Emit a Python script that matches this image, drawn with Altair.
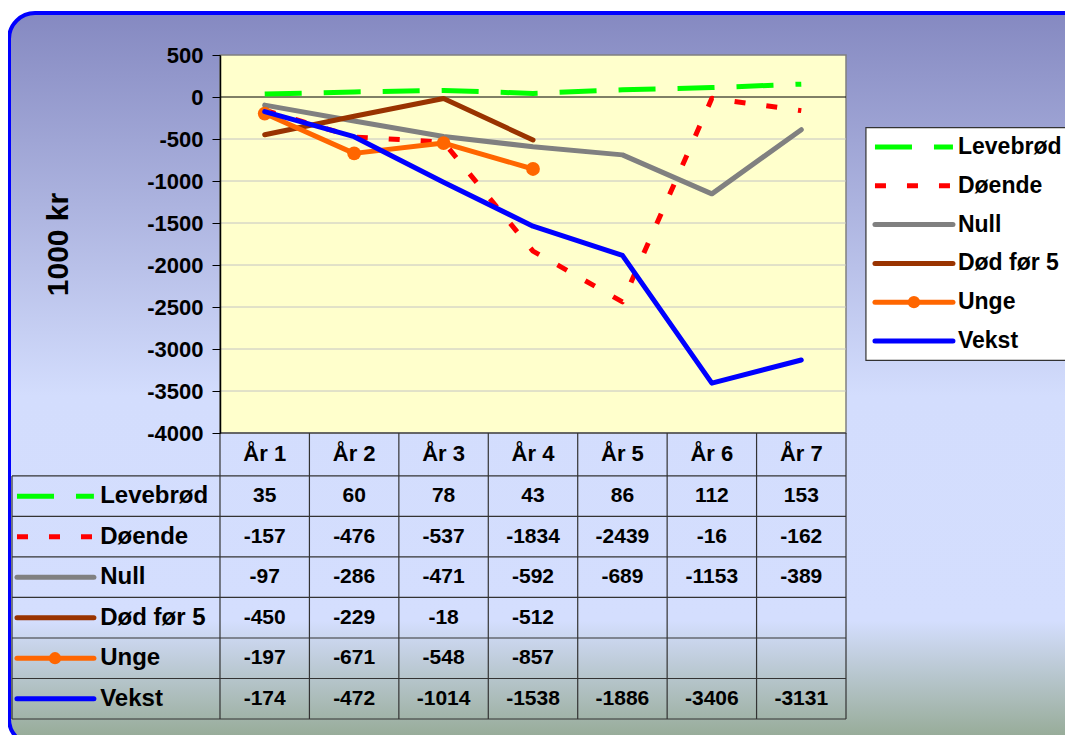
import altair as alt
import pandas as pd

# ---------------- data ----------------
years = ["År 1", "År 2", "År 3", "År 4", "År 5", "År 6", "År 7"]
series_names = ["Levebrød", "Døende", "Null", "Død før 5", "Unge", "Vekst"]
levebrod = [35, 60, 78, 43, 86, 112, 153]
doende = [-157, -476, -537, -1834, -2439, -16, -162]
null_series = [-97, -286, -471, -592, -689, -1153, -389]
dod_for_5 = [-450, -229, -18, -512, None, None, None]
unge = [-197, -671, -548, -857, None, None, None]
vekst = [-174, -472, -1014, -1538, -1886, -3406, -3131]
y_ticks = [500, 0, -500, -1000, -1500, -2000, -2500, -3000, -3500, -4000]
y_title = "1000 kr"

series_values = [levebrod, doende, null_series, dod_for_5, unge, vekst]

# ---------------- styles ----------------
series_colors = ["#00ff00", "#ff0000", "#808080", "#993300", "#ff6600", "#0000ff"]
series_dash = [[37, 22], [11, 21], None, None, None, None]
series_marker = [False, False, False, False, True, False]
FONT = "Liberation Sans"
LINE_W = 5
TABLE_LINE = "#333333"
GRID = "#c4c4c4"
PLOT_FILL = "#ffffcc"

# ---------------- layout ----------------
W, H = 834, 664          # table + plot block
PLOT_H = 378             # height of the plot area
COL_PX = 89.43           # width of one year column
LABEL_COLS = 208 / COL_PX  # label column width in column units
HEADER_ROWS = 1.06       # header row height in row units
ROW_SYM_X0, ROW_SYM_X1, ROW_SYM_DOT = -2.27, -1.41, -1.845
ROW_TEXT_X = -1.34
LEG_BOX_X0, LEG_BOX_X1 = 7.223, 10.5
LEG_SYM_X0, LEG_SYM_X1, LEG_SYM_DOT = 7.324, 8.196, 7.76
LEG_TEXT_X = 8.252
LEG_RANGE = [72.6, 305.4]

n_years = len(years)
n_series = len(series_names)

# ---------------- tables ----------------
rows = []
for r, (name, vals) in enumerate(zip(series_names, series_values)):
    for c, v in enumerate(vals):
        if v is None:
            continue
        rows.append(dict(series=name, row=r, ry=r + 0.5, year=years[c],
                         cx=c + 0.5, value=v, label=str(v)))
long_df = pd.DataFrame(rows)

XS = alt.Scale(domain=[-LABEL_COLS, n_years], nice=False, zero=False)
YV = alt.Scale(domain=[min(y_ticks), max(y_ticks)], range=[PLOT_H, 0], nice=False, zero=False)
YR = alt.Scale(domain=[-HEADER_ROWS, n_series], range=[PLOT_H, H], nice=False, zero=False)
YL = alt.Scale(domain=[-0.5, n_series - 0.5], range=LEG_RANGE, nice=False, zero=False)

layers = []

# background panel with rounded blue frame
bg_grad = alt.Gradient(
    gradient="linear", x1=0, x2=0, y1=0, y2=1,
    stops=[
        alt.GradientStop(offset=0.0, color="#8589c1"),
        alt.GradientStop(offset=0.523, color="#d3ddfd"),
        alt.GradientStop(offset=0.83, color="#d4defe"),
        alt.GradientStop(offset=1.0, color="#93a891"),
    ],
)
layers.append(
    alt.Chart(pd.DataFrame({"k": [0]})).mark_rect(
        fill=bg_grad, stroke="#0000ff", strokeWidth=4, cornerRadius=26
    ).encode(x=alt.value(-3), x2=alt.value(1100), y=alt.value(-42), y2=alt.value(690))
)

# plot area with y axis
plot_df = pd.DataFrame({"x0": [0], "x1": [n_years], "y0": [max(y_ticks)], "y1": [min(y_ticks)]})
layers.append(
    alt.Chart(plot_df).mark_rect(fill=PLOT_FILL, stroke="#808080", strokeWidth=1.5).encode(
        x=alt.X("x0:Q", scale=XS, axis=None),
        x2="x1:Q",
        y=alt.Y("y0:Q", scale=YV, axis=alt.Axis(
            values=y_ticks, grid=False, offset=-LABEL_COLS * COL_PX,
            tickSize=8, tickColor="black", tickWidth=1,
            domainColor="black", domainWidth=1.5,
            labelExpr="datum.value + ''",
            labelFont=FONT, labelFontSize=22, labelFontWeight="bold", labelColor="black",
            labelPadding=9,
            title=y_title, titleFont=FONT, titleFontSize=30, titleFontWeight="bold",
            titleColor="black", titlePadding=73, zindex=1,
        )),
        y2="y1:Q",
    )
)

# gridlines
grid_df = pd.DataFrame({"v": [t for t in y_ticks if t not in (max(y_ticks), min(y_ticks))],
                        "x0": 0, "x1": n_years})
grid_df["c"] = grid_df["v"].apply(lambda t: "zero" if t == 0 else "grid")
layers.append(
    alt.Chart(grid_df).mark_rule(strokeWidth=1).encode(
        x=alt.X("x0:Q", scale=XS, axis=None), x2="x1:Q",
        y=alt.Y("v:Q", scale=YV, axis=None),
        color=alt.Color("c:N", scale=alt.Scale(domain=["zero", "grid"], range=["#000000", GRID]), legend=None),
    )
)

# table lines
vlines = pd.DataFrame({"k": list(range(n_years + 1)), "y0": -HEADER_ROWS, "y1": n_series})
vlines = pd.concat([vlines, pd.DataFrame({"k": [-LABEL_COLS], "y0": [0], "y1": [n_series]})])
hlines = pd.DataFrame({"r": list(range(n_series + 1)), "x0": -LABEL_COLS, "x1": n_years})
hlines = pd.concat([hlines, pd.DataFrame({"r": [-HEADER_ROWS], "x0": [0], "x1": [n_years]})])
layers.append(
    alt.Chart(vlines).mark_rule(color=TABLE_LINE, strokeWidth=1.2).encode(
        x=alt.X("k:Q", scale=XS, axis=None),
        y=alt.Y("y0:Q", scale=YR, axis=None), y2="y1:Q")
)
layers.append(
    alt.Chart(hlines).mark_rule(color=TABLE_LINE, strokeWidth=1.2).encode(
        x=alt.X("x0:Q", scale=XS, axis=None), x2="x1:Q",
        y=alt.Y("r:Q", scale=YR, axis=None))
)

# header text
hdr_df = pd.DataFrame({"year": years, "cx": [i + 0.5 for i in range(n_years)], "hy": -HEADER_ROWS / 2})
layers.append(
    alt.Chart(hdr_df).mark_text(font=FONT, fontSize=22, fontWeight="bold", color="black",
                                baseline="middle", align="center").encode(
        x=alt.X("cx:Q", scale=XS, axis=None),
        y=alt.Y("hy:Q", scale=YR, axis=None),
        text="year:N")
)

# values text
layers.append(
    alt.Chart(long_df).mark_text(font=FONT, fontSize=21, fontWeight="bold", color="black",
                                 baseline="middle", align="center").encode(
        x=alt.X("cx:Q", scale=XS, axis=None),
        y=alt.Y("ry:Q", scale=YR, axis=None),
        text="label:N")
)

# row labels
rl_df = pd.DataFrame({"series": series_names, "ry": [r + 0.5 for r in range(n_series)], "tx": ROW_TEXT_X})
layers.append(
    alt.Chart(rl_df).mark_text(font=FONT, fontSize=24, fontWeight="bold", color="black",
                               baseline="middle", align="left").encode(
        x=alt.X("tx:Q", scale=XS, axis=None),
        y=alt.Y("ry:Q", scale=YR, axis=None),
        text="series:N")
)

# legend box
leg_df = pd.DataFrame({"x0": [LEG_BOX_X0], "x1": [LEG_BOX_X1], "y0": [-0.5], "y1": [n_series - 0.5]})
layers.append(
    alt.Chart(leg_df).mark_rect(fill="white", stroke="#333333", strokeWidth=1.2).encode(
        x=alt.X("x0:Q", scale=XS, axis=None), x2="x1:Q",
        y=alt.Y("y0:Q", scale=YL, axis=None), y2="y1:Q")
)
leg_txt = pd.DataFrame({"series": series_names, "ly": list(range(n_series)), "tx": LEG_TEXT_X})
layers.append(
    alt.Chart(leg_txt).mark_text(font=FONT, fontSize=23, fontWeight="bold", color="black",
                                 baseline="middle", align="left").encode(
        x=alt.X("tx:Q", scale=XS, axis=None),
        y=alt.Y("ly:Q", scale=YL, axis=None),
        text="series:N")
)

# series: plot lines, table symbols, legend symbols
for r, name in enumerate(series_names):
    color = series_colors[r]
    dash = series_dash[r]
    style = dict(color=color, strokeWidth=LINE_W)
    if dash:
        style["strokeDash"] = dash
        style["strokeCap"] = "butt"
    else:
        style["strokeCap"] = "round"
    sdf = long_df[long_df["series"] == name]
    layers.append(
        alt.Chart(sdf).mark_line(strokeJoin="round", **style).encode(
            x=alt.X("cx:Q", scale=XS, axis=None),
            y=alt.Y("value:Q", scale=YV, axis=None),
            order="cx:Q")
    )
    sym = pd.DataFrame({"series": [name], "x0": [ROW_SYM_X0], "x1": [ROW_SYM_X1], "ry": [r + 0.5],
                        "lx0": [LEG_SYM_X0], "lx1": [LEG_SYM_X1], "ly": [r],
                        "dx": [ROW_SYM_DOT], "ldx": [LEG_SYM_DOT]})
    layers.append(
        alt.Chart(sym).mark_rule(**style).encode(
            x=alt.X("x0:Q", scale=XS, axis=None), x2="x1:Q",
            y=alt.Y("ry:Q", scale=YR, axis=None))
    )
    layers.append(
        alt.Chart(sym).mark_rule(**style).encode(
            x=alt.X("lx0:Q", scale=XS, axis=None), x2="lx1:Q",
            y=alt.Y("ly:Q", scale=YL, axis=None))
    )
    if series_marker[r]:
        layers.append(
            alt.Chart(sdf).mark_point(filled=True, size=190, color=color, opacity=1).encode(
                x=alt.X("cx:Q", scale=XS, axis=None),
                y=alt.Y("value:Q", scale=YV, axis=None))
        )
        layers.append(
            alt.Chart(sym).mark_point(filled=True, size=150, color=color, opacity=1).encode(
                x=alt.X("dx:Q", scale=XS, axis=None),
                y=alt.Y("ry:Q", scale=YR, axis=None))
        )
        layers.append(
            alt.Chart(sym).mark_point(filled=True, size=150, color=color, opacity=1).encode(
                x=alt.X("ldx:Q", scale=XS, axis=None),
                y=alt.Y("ly:Q", scale=YL, axis=None))
        )

chart = alt.layer(*layers).resolve_scale(y="independent").properties(
    width=W, height=H,
    autosize=alt.AutoSizeParams(type="none"),
    padding={"left": 4, "top": 47, "right": 219, "bottom": 16},
    background="white",
).configure_view(stroke="transparent")

chart.save("out.html", embed_options={"renderer": "svg", "actions": False})
